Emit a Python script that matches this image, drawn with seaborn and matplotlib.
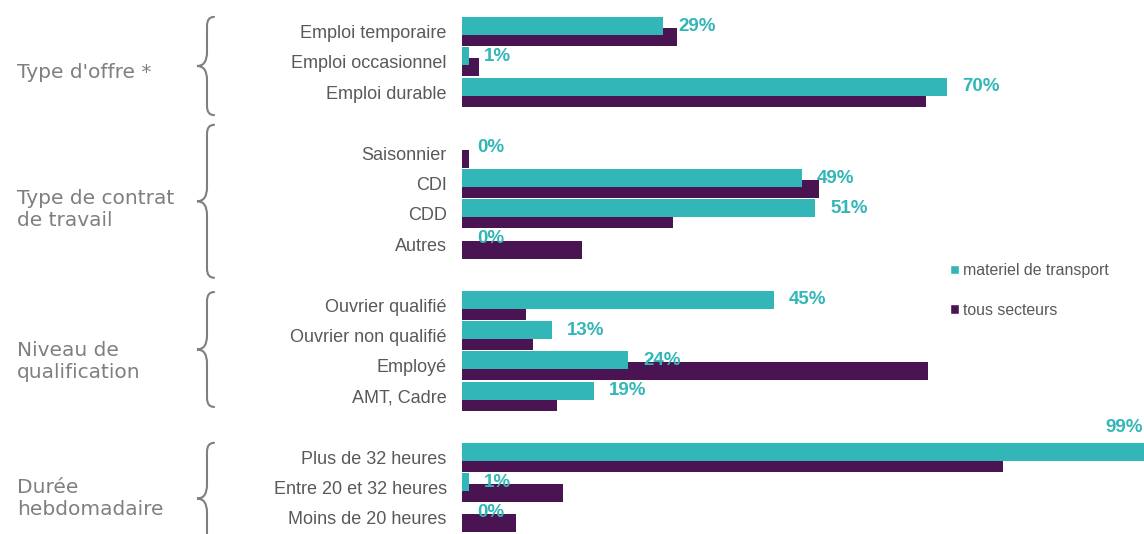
import matplotlib.pyplot as plt
import matplotlib.transforms as mtransforms
import pandas as pd
import seaborn as sns
from matplotlib.patches import Patch, PathPatch
from matplotlib.path import Path

# data
groups = ["Type d'offre *", "Type de contrat\nde travail", "Niveau de\nqualification", "Durée\nhebdomadaire"]
rows_offre = ["Emploi temporaire", "Emploi occasionnel", "Emploi durable"]
rows_contrat = ["Saisonnier", "CDI", "CDD", "Autres"]
rows_niveau = ["Ouvrier qualifié", "Ouvrier non qualifié", "Employé", "AMT, Cadre"]
rows_duree = ["Plus de 32 heures", "Entre 20 et 32 heures", "Moins de 20 heures"]

transport_offre = [29, 1, 70]
transport_contrat = [0, 49, 51, 0]
transport_niveau = [45, 13, 24, 19]
transport_duree = [99, 1, 0]

tous_offre = [31, 2.5, 67]
tous_contrat = [1, 51.5, 30.5, 17.3]
tous_niveau = [9.3, 10.2, 67.3, 13.7]
tous_duree = [78, 14.6, 7.8]

series = ["materiel de transport", "tous secteurs"]

TEAL = "#33b6b7"
PURPLE = "#4a1351"
GREY_TXT = "#595959"
GREY_GRP = "#7f7f7f"

sns.set_theme(style="white")
plt.rcParams["font.family"] = ["Liberation Sans", "DejaVu Sans"]

# build long table, one empty slot between groups
all_rows = [rows_offre, rows_contrat, rows_niveau, rows_duree]
all_t = [transport_offre, transport_contrat, transport_niveau, transport_duree]
all_s = [tous_offre, tous_contrat, tous_niveau, tous_duree]

records = []
group_slots = []
slot = 0
for rows, tv, sv in zip(all_rows, all_t, all_s):
    first = slot
    for lab, a, b in zip(rows, tv, sv):
        records.append({"label": lab, "slot": slot, "series": series[0], "value": a})
        records.append({"label": lab, "slot": slot, "series": series[1], "value": b})
        slot += 1
    group_slots.append((first, slot - 1))
    slot += 1
df = pd.DataFrame(records)

W, H = 1144, 534
fig = plt.figure(figsize=(W / 100, H / 100), dpi=100)
ax = fig.add_axes([462 / W, 0, 1 - 462 / W, 1])

sns.barplot(data=df, x="value", y="slot", hue="series", hue_order=series,
            orient="h", native_scale=True, dodge=True, width=0.72, saturation=1,
            palette=[TEAL, PURPLE], errorbar=None, legend=False, ax=ax)

# overlapping bars, teal in front
bar_h = 0.59
for i, cont in enumerate(ax.containers):
    for p in cont:
        c = p.get_y() + p.get_height() / 2
        p.set_height(bar_h)
        p.set_y(c - bar_h / 2)
        p.set_linewidth(0)
        p.set_zorder(3 if i == 0 else 2)

xmax = (W - 462) / 6.93
ax.set_xlim(0, xmax)
ax.set_ylim(16.53, -1.036)
for s in ax.spines.values():
    s.set_visible(False)
ax.set_xticks([])
ax.set_xlabel("")
ax.set_ylabel("")

lab_df = df[df.series == series[0]]
ax.set_yticks(lab_df.slot.tolist())
ax.set_yticklabels(lab_df.label.tolist(), fontsize=13, color=GREY_TXT)
ax.tick_params(axis="y", length=0, pad=11)

# value labels for the teal series
for _, r in lab_df.iterrows():
    yc = r.slot - 0.18
    x = r.value + 2.2
    if x + 5 > xmax:
        ax.text(xmax - 0.2, yc - 0.8, f"{r.value:.0f}%", ha="right", va="center",
                fontsize=13.5, fontweight="bold", color=TEAL, zorder=5, clip_on=False)
    else:
        ax.text(x, yc, f"{r.value:.0f}%", ha="left", va="center",
                fontsize=13.5, fontweight="bold", color=TEAL, zorder=5)

# group labels and braces
blend = mtransforms.blended_transform_factory(fig.transFigure, ax.transData)
brace_spans = [(-0.48, 2.75), (3.07, 8.1), (8.57, 12.35), (13.53, 17.2)]
for (g0, g1), name, (top, bot) in zip(group_slots, groups, brace_spans):
    yc = (g0 + g1) / 2 + 0.35
    t = fig.text(17 / W, 0, name, transform=blend, ha="left", va="center",
                 fontsize=14.5, color=GREY_GRP, family="DejaVu Sans", linespacing=1.2)
    t.set_position((17 / W, yc))
    xe, xm, xt = 214 / W, 207 / W, 197 / W
    mid = (top + bot) / 2
    r1, r2 = 0.3, 0.45
    verts = [(xe, top), (xm, top), (xm, top + r1),
             (xm, mid - r2),
             (xm, mid), (xt, mid),
             (xm, mid), (xm, mid + r2),
             (xm, bot - r1),
             (xm, bot), (xe, bot)]
    codes = [Path.MOVETO, Path.CURVE3, Path.CURVE3,
             Path.LINETO,
             Path.CURVE3, Path.CURVE3,
             Path.CURVE3, Path.CURVE3,
             Path.LINETO,
             Path.CURVE3, Path.CURVE3]
    fig.add_artist(PathPatch(Path(verts, codes), transform=blend, fill=False,
                             edgecolor=GREY_GRP, linewidth=1.5, capstyle="round"))

handles = [Patch(facecolor=TEAL, label=series[0]), Patch(facecolor=PURPLE, label=series[1])]
fig.legend(handles=handles, loc="upper left", bbox_to_anchor=(950 / W, 1 - 263 / H),
           frameon=False, fontsize=11.4, labelcolor=GREY_TXT, handlelength=0.55,
           handleheight=0.55, handletextpad=0.25, labelspacing=1.55, borderpad=0,
           borderaxespad=0)

fig.savefig("out.png", dpi=100)
